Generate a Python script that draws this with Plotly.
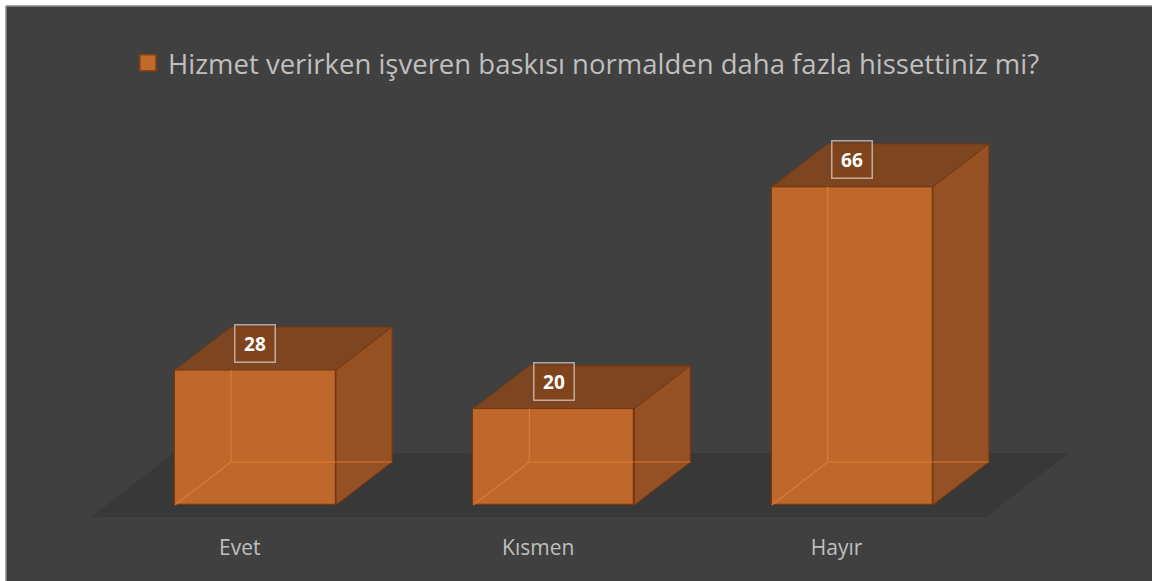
import plotly.graph_objects as go

# ---- data ----
categories = ["Evet", "Kısmen", "Hayır"]
values = [28, 20, 66]
series_name = "Hizmet verirken işveren baskısı normalden daha fazla hissettiniz mi?"

# ---- style / geometry constants ----
BG = "#404040"
FLOOR = "#383838"
TEXT = "#BFBFBF"
FRONT = "rgba(196,106,44,0.96)"
TOP = "#7E4521"
SIDE = "#955024"
EDGE = "rgb(120,55,15)"
INNER = "rgba(235,128,55,0.75)"
BAR_W = 0.54
DX = 0.1877      # depth offset in x (category units)
DY = 8.92        # depth offset in y (value units)
FT0, FT1 = -0.28, 1.21   # floor depth extent (fraction of bar depth)

xs = list(range(len(categories)))
fig = go.Figure()

# front faces
fig.add_trace(go.Bar(
    x=xs, y=values, width=BAR_W, base=0,
    marker=dict(color=FRONT, line=dict(color=EDGE, width=1.2)),
    showlegend=False, hoverinfo="skip"))

for i, v in zip(xs, values):
    l, r = i - BAR_W / 2, i + BAR_W / 2
    # top face
    fig.add_trace(go.Scatter(
        x=[l, r, r + DX, l + DX, l], y=[v, v, v + DY, v + DY, v],
        fill="toself", fillcolor=TOP, mode="lines",
        line=dict(color=EDGE, width=1), showlegend=False, hoverinfo="skip"))
    # right side face
    fig.add_trace(go.Scatter(
        x=[r, r + DX, r + DX, r, r], y=[0, DY, v + DY, v, 0],
        fill="toself", fillcolor=SIDE, mode="lines",
        line=dict(color=EDGE, width=1), showlegend=False, hoverinfo="skip"))
    # hidden (back) edges seen through the transparent box
    fig.add_trace(go.Scatter(
        x=[l, l + DX, l + DX, None, l + DX, r + DX],
        y=[0, DY, v, None, DY, DY],
        mode="lines", line=dict(color=INNER, width=1.2),
        showlegend=False, hoverinfo="skip"))

# legend entry
fig.add_trace(go.Scatter(
    x=[None], y=[None], mode="markers", name=series_name,
    marker=dict(symbol="square", size=16, color="#C06A2C",
                line=dict(color="#8A4212", width=1.5))))

# data labels
for i, v in zip(xs, values):
    fig.add_annotation(
        x=i, y=v, xref="x", yref="y", text=f"<b>{v}</b>", showarrow=False,
        yshift=27, width=39, height=36,
        font=dict(family="Open Sans", size=19, color="white"),
        bgcolor="rgba(130,68,28,0.55)", bordercolor="rgba(255,255,255,0.55)",
        borderwidth=1.5, borderpad=0)

# floor slab (under everything)
n = len(categories)
fx0, fx1 = -0.5, n - 0.5
fig.add_shape(
    type="path", layer="below", xref="x", yref="y",
    path=(f"M{fx0 + FT0 * DX},{FT0 * DY} L{fx1 + FT0 * DX},{FT0 * DY} "
          f"L{fx1 + FT1 * DX},{FT1 * DY} L{fx0 + FT1 * DX},{FT1 * DY} Z"),
    fillcolor=FLOOR, line=dict(width=0))

# chart-area outline (top & left)
fig.add_shape(type="line", xref="paper", yref="paper", x0=0, x1=1, y0=1, y1=1,
              line=dict(color="#8C8C8C", width=1.5))
fig.add_shape(type="line", xref="paper", yref="paper", x0=0, x1=0, y0=0, y1=1,
              line=dict(color="#8C8C8C", width=1.5))

fig.update_layout(
    width=1152, height=581,
    margin=dict(l=6, r=0, t=6, b=0),
    paper_bgcolor="white", plot_bgcolor=BG,
    font=dict(family="Open Sans", color=TEXT),
    showlegend=True,
    legend=dict(orientation="h", x=0.5065, xanchor="center", y=0.9009,
                yanchor="middle", font=dict(size=27.5, color=TEXT),
                bgcolor="rgba(0,0,0,0)", itemclick=False),
    xaxis=dict(range=[-0.8361, 3.0044], anchor="free", position=0.083,
               tickvals=[i + FT0 * DX for i in xs], ticktext=categories,
               tickfont=dict(size=21, color=TEXT), showgrid=False,
               zeroline=False, showline=False, ticks="", automargin=False,
               fixedrange=True),
    yaxis=dict(range=[-15.77, 103.53], showgrid=False, zeroline=False,
               showline=False, showticklabels=False, automargin=False,
               fixedrange=True),
    bargap=0,
)

fig.write_html("out.html")
